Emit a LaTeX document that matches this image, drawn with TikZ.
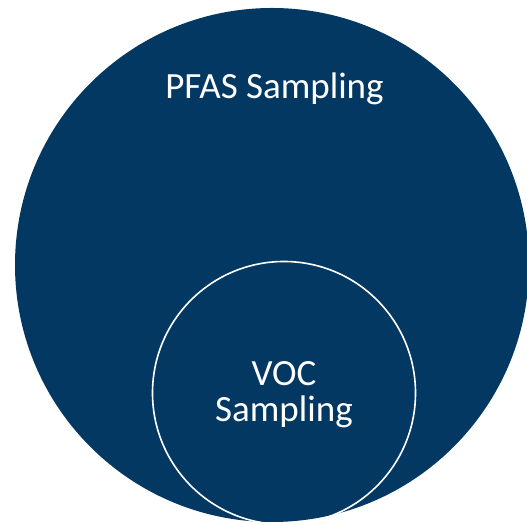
\documentclass[tikz,border=0pt]{standalone}
\usepackage{fontspec}
\setmainfont{Carlito}
\definecolor{navy}{RGB}{3,56,99}
\begin{document}
\begin{tikzpicture}[x=1pt,y=1pt,
  bigcircle/.style={circle,fill=navy,inner sep=0pt,minimum size=514pt},
  smallcircle/.style={circle,draw=white,line width=1.6pt,inner sep=0pt,minimum size=263pt},
  label/.style={text=white,font=\fontsize{37}{36}\selectfont,inner sep=0pt,align=center}]
\useasboundingbox (0,0) rectangle (527,524);
\clip (0,0) rectangle (527,524);
\node[bigcircle] (pfas) at (272,259) {};
\node[smallcircle] (voc) at (284,131) {};
\node[label,anchor=base] (pfastext) at (274.5,425) {PFAS Sampling};
\node[label,anchor=base] (voctext) at (284,102) {VOC\\Sampling};
\end{tikzpicture}
\end{document}
